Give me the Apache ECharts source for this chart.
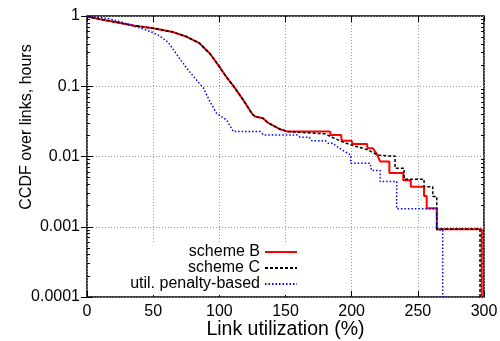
<!DOCTYPE html>
<html>
<head>
<meta charset="utf-8">
<script src="https://cdn.jsdelivr.net/npm/echarts@6/dist/echarts.min.js"></script>
<style>
  html, body { margin: 0; padding: 0; background: #fff; }
  #main { width: 500px; height: 341px; }
</style>
</head>
<body>
<div id="main"></div>
<script>
// x ticks and y tick labels
const xTicks = [0, 50, 100, 150, 200, 250, 300];
const yTickLabels = ["0.0001", "0.001", "0.01", "0.1", "1"];

// scheme B (red)
const schemeBX = [0, 10, 20, 35, 50, 65, 75, 85, 93, 100, 106, 111, 118, 125, 127, 133, 137, 146, 152,
  183.7, 184, 192, 192.5, 200, 200.5, 211.6, 212, 216, 219, 221.5, 228.5, 228.5, 239, 239, 244.7, 244.7,
  254.7, 254.7, 256.7, 256.7, 264.3, 264.3, 298.3, 298.3];
const schemeBY = [0.98, 0.9, 0.83, 0.73, 0.67, 0.59, 0.51, 0.41, 0.29, 0.19, 0.13, 0.099, 0.064, 0.04, 0.037, 0.035, 0.03, 0.0244, 0.0226,
  0.0226, 0.0203, 0.0203, 0.0168, 0.0168, 0.0151, 0.0151, 0.0131, 0.0131, 0.0108, 0.0085, 0.0085, 0.0058, 0.0058, 0.0046, 0.0046, 0.0037,
  0.0037, 0.00275, 0.00275, 0.00184, 0.00184, 0.00092, 0.00092, 0.0001];

// scheme C (black dashed)
const schemeCX = [0, 10, 20, 35, 50, 65, 75, 85, 93, 100, 106, 111, 118, 125, 127, 133, 137, 146, 152,
  180, 186, 192, 200, 212, 219.5, 226.5, 232.8, 232.8, 239.6, 239.6, 254.7, 254.7, 261.3, 261.3,
  264.3, 264.3, 297, 297];
const schemeCY = [0.98, 0.9, 0.83, 0.73, 0.67, 0.59, 0.51, 0.41, 0.29, 0.19, 0.13, 0.099, 0.064, 0.04, 0.037, 0.035, 0.03, 0.0244, 0.0226,
  0.021, 0.0185, 0.0165, 0.0145, 0.0125, 0.0105, 0.0102, 0.0102, 0.0068, 0.0068, 0.00475, 0.00475, 0.0037, 0.0037, 0.0027,
  0.0027, 0.00093, 0.00093, 0.0001];

// util. penalty-based (blue dotted)
const penaltyX = [0, 15, 27, 35, 43, 50, 55, 61.5, 68, 75.4, 81.6, 88, 93, 98, 105.6, 110.6, 131, 133.3,
  159, 161, 168, 169.8, 180, 182.4, 186, 188.7, 195, 199.3, 199.3, 214, 215, 221.5, 221.5, 234, 234,
  264.3, 264.3, 268.8, 268.8];
const penaltyY = [0.98, 0.93, 0.81, 0.72, 0.65, 0.58, 0.52, 0.42, 0.28, 0.18, 0.13, 0.094, 0.06, 0.041, 0.033, 0.0226, 0.0226, 0.0203,
  0.0203, 0.0188, 0.0188, 0.0168, 0.0168, 0.0154, 0.0154, 0.0139, 0.0117, 0.0105, 0.008, 0.008, 0.0063, 0.0063, 0.0044, 0.0044, 0.0018,
  0.0018, 0.0009, 0.0009, 0.0001];

function pairs(xs, ys) {
  return xs.map((x, i) => [x, ys[i]]);
}

// minor ticks 2..9 in each decade, like gnuplot's log axis
let minorVals = [];
for (let e = -4; e < 0; e++) {
  for (let m = 2; m <= 9; m++) minorVals.push(m * Math.pow(10, e));
}

let myChart = echarts.init(document.getElementById("main"));

const font = "Liberation Sans, Arial, Helvetica, sans-serif";
const gridLine = { show: true, lineStyle: { color: "#999", type: [1, 2], width: 1 } };
const tick = { show: true, inside: true, length: 6, lineStyle: { color: "#000" } };

function minorAxis(pos) {
  return {
    type: "log", logBase: 10, position: pos,
    min: 0.0001, max: 1,
    axisLine: { show: false },
    axisTick: { show: true, inside: true, length: 3, customValues: minorVals, lineStyle: { color: "#000" } },
    axisLabel: { show: false },
    splitLine: { show: false }
  };
}

let option = {
  animation: false,
  backgroundColor: "#fff",
  grid: {
    left: 87, right: 16, top: 16, bottom: 44,
    outerBoundsMode: "none",
    containLabel: false,
    show: true, borderColor: "#000", borderWidth: 1.5, backgroundColor: "transparent"
  },
  // y title sits above the axis middle in the original
  graphic: [{
    type: "text",
    x: 27, y: 127,
    rotation: Math.PI / 2,
    style: {
      text: "CCDF over links, hours",
      font: "16px " + font,
      fill: "#000",
      align: "center",
      verticalAlign: "middle"
    }
  }],
  legend: {
    orient: "vertical",
    align: "right",
    right: 200,
    top: 243,
    padding: [1, 2, 3, 8],
    backgroundColor: "#fff",
    itemWidth: 32,
    itemHeight: 10,
    itemGap: 0,
    itemStyle: { opacity: 0, borderWidth: 0 },
    textStyle: { fontFamily: font, fontSize: 16, lineHeight: 16, color: "#000" },
    data: ["scheme B", "scheme C", "util. penalty-based"]
  },
  xAxis: [
    {
      type: "value",
      min: 0, max: 300, interval: 50,
      name: "Link utilization (%)",
      nameLocation: "middle",
      nameGap: 23,
      nameMoveOverlap: false,
      nameTextStyle: { fontFamily: font, fontSize: 19.5, color: "#000" },
      axisLine: { show: false },
      axisTick: tick,
      axisLabel: { fontFamily: font, fontSize: 16, color: "#000", margin: 7 },
      splitLine: gridLine
    },
    {
      type: "value", position: "top",
      min: 0, max: 300, interval: 50,
      axisLine: { show: false },
      axisTick: tick,
      axisLabel: { show: false },
      splitLine: { show: false }
    }
  ],
  yAxis: [
    {
      type: "log", logBase: 10,
      min: 0.0001, max: 1,
      axisLine: { show: false },
      axisTick: tick,
      axisLabel: {
        fontFamily: font, fontSize: 16, color: "#000", margin: 7,
        formatter: function (v) {
          let k = Math.round(Math.log10(v)) + 4;
          return yTickLabels[k] || "";
        }
      },
      splitLine: gridLine
    },
    {
      type: "log", logBase: 10, position: "right",
      min: 0.0001, max: 1,
      axisLine: { show: false },
      axisTick: tick,
      axisLabel: { show: false },
      splitLine: { show: false }
    },
    minorAxis("left"),
    minorAxis("right")
  ],
  series: [
    {
      name: "scheme B", type: "line", symbol: "none",
      lineStyle: { color: "#ff0000", width: 2 },
      itemStyle: { color: "#ff0000" },
      data: pairs(schemeBX, schemeBY)
    },
    {
      name: "scheme C", type: "line", symbol: "none",
      lineStyle: { color: "#000", width: 1.5, type: [3, 2] },
      itemStyle: { color: "#000" },
      data: pairs(schemeCX, schemeCY)
    },
    {
      name: "util. penalty-based", type: "line", symbol: "none",
      lineStyle: { color: "#0000ff", width: 1.5, type: [1.5, 2] },
      itemStyle: { color: "#0000ff" },
      data: pairs(penaltyX, penaltyY)
    }
  ]
};

myChart.setOption(option, true);
</script>
</body>
</html>
